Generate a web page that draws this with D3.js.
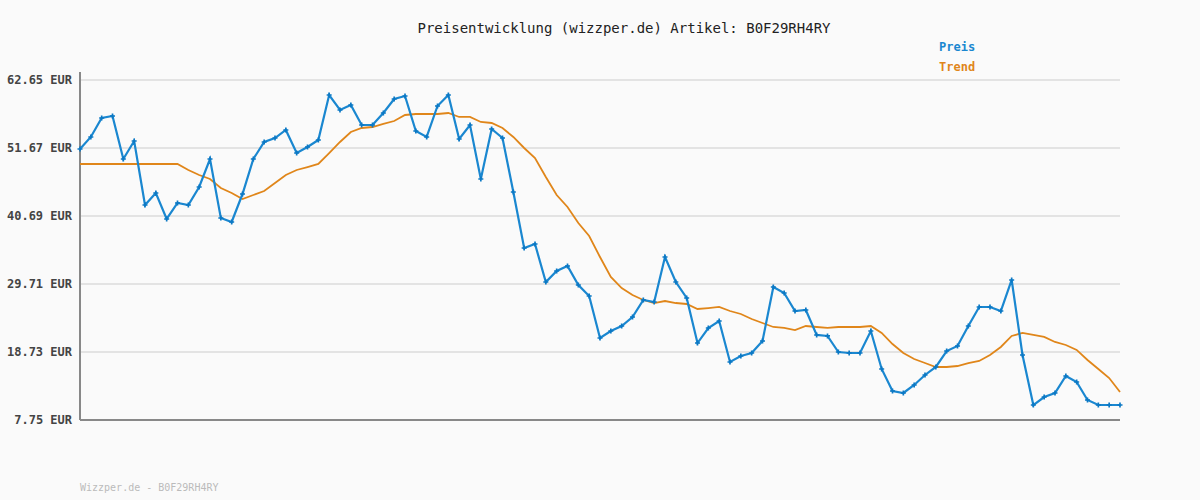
<!DOCTYPE html>
<html>
<head>
<meta charset="utf-8">
<script src="https://cdn.jsdelivr.net/npm/d3@7"></script>
<style>
  body { margin: 0; background: #fafafa; }
  text { font-family: "DejaVu Sans Mono", monospace; }
</style>
</head>
<body>
<svg width="1200" height="500"></svg>
<script>
// price values (EUR), one per day
const preis = [51.51,53.45,56.51,56.84,49.89,52.80,42.47,44.40,40.21,42.79,
  42.47,45.37,49.89,40.37,39.72,44.24,49.89,52.64,53.28,54.58,
  50.86,51.83,52.96,60.23,57.81,58.61,55.38,55.38,57.32,59.58,
  60.07,54.41,53.45,58.45,60.23,53.12,55.38,46.66,54.74,53.28,
  44.57,35.52,36.17,30.03,31.81,32.62,29.55,27.77,20.99,22.12,
  22.93,24.38,27.13,26.80,34.07,30.03,27.45,20.18,22.60,23.74,
  17.12,18.08,18.57,20.51,29.23,28.26,25.35,25.51,21.48,21.32,
  18.73,18.57,18.57,22.12,15.99,12.43,12.11,13.40,15.02,16.31,
  18.89,19.70,22.93,26.00,26.00,25.35,30.36,18.25,10.17,11.46,
  12.11,14.85,13.89,10.98,10.17,10.17,10.17];
const trend = [49.09,49.09,49.09,49.09,49.09,49.09,49.09,49.09,49.09,49.09,
  48.12,47.31,46.66,45.21,44.40,43.43,44.08,44.73,46.02,47.31,
  48.12,48.60,49.09,50.86,52.64,54.25,54.90,55.06,55.55,56.03,
  57.00,57.16,57.16,57.16,57.32,56.68,56.68,55.87,55.71,54.90,
  53.45,51.67,50.06,46.99,44.08,42.14,39.56,37.46,34.07,30.84,
  29.06,27.93,27.13,26.64,26.96,26.64,26.48,25.67,25.83,26.00,
  25.35,24.87,24.06,23.41,22.77,22.61,22.28,22.93,22.77,22.61,
  22.77,22.77,22.77,22.93,21.80,20.02,18.57,17.60,16.95,16.31,
  16.31,16.47,16.95,17.28,18.25,19.54,21.32,21.80,21.48,21.16,
  20.35,19.86,19.06,17.44,15.99,14.53,12.27];
const yTicks = [7.75, 18.73, 29.71, 40.69, 51.67, 62.65];
const artikel = "B0F29RH4RY";

const svg = d3.select("svg");
const mLeft = 80, mRight = 1120, mTop = 80, mBottom = 420;

const x = d3.scaleLinear().domain([0, preis.length - 1]).range([mLeft, mRight]);
const y = d3.scaleLinear().domain([7.75, 62.65]).range([mBottom, mTop]);

// grid
svg.append("g").selectAll("line")
  .data(yTicks.slice(1))
  .join("line")
  .attr("x1", mLeft).attr("x2", mRight)
  .attr("y1", d => y(d)).attr("y2", d => y(d))
  .attr("stroke", "#e3e3e3").attr("stroke-width", 2);

// y labels
svg.append("g").selectAll("text")
  .data(yTicks)
  .join("text")
  .attr("x", 72).attr("y", d => y(d) + 4)
  .attr("text-anchor", "end")
  .attr("font-size", 12).attr("font-weight", "bold")
  .attr("fill", "#444")
  .text(d => d.toFixed(2) + " EUR");

// axes lines
svg.append("line").attr("x1", mLeft).attr("x2", mLeft).attr("y1", mTop - 8).attr("y2", mBottom)
  .attr("stroke", "#888").attr("stroke-width", 2);
svg.append("line").attr("x1", mLeft).attr("x2", mRight).attr("y1", mBottom).attr("y2", mBottom)
  .attr("stroke", "#888").attr("stroke-width", 2);

const line = d3.line().x((d, i) => x(i)).y(d => y(d));

svg.append("path").datum(trend)
  .attr("d", line).attr("fill", "none")
  .attr("stroke", "#e0861a").attr("stroke-width", 1.8);

svg.append("path").datum(preis)
  .attr("d", line).attr("fill", "none")
  .attr("stroke", "#1a87d0").attr("stroke-width", 2.2);

svg.append("g").selectAll("path")
  .data(preis)
  .join("path")
  .attr("transform", (d, i) => `translate(${x(i)},${y(d)})`)
  .attr("d", d3.symbol(d3.symbolCross, 14))
  .attr("fill", "#0b78c4");

// title + legend
svg.append("text").attr("x", 624).attr("y", 33).attr("text-anchor", "middle")
  .attr("font-size", 14).attr("fill", "#222")
  .text("Preisentwicklung (wizzper.de) Artikel: " + artikel);
svg.append("text").attr("x", 939).attr("y", 51).attr("font-size", 12)
  .attr("font-weight", "bold").attr("fill", "#1a87d0").text("Preis");
svg.append("text").attr("x", 939).attr("y", 71).attr("font-size", 12)
  .attr("font-weight", "bold").attr("fill", "#e0861a").text("Trend");

// footer
svg.append("text").attr("x", 80).attr("y", 491).attr("font-size", 10)
  .attr("fill", "#bbb").text("Wizzper.de - " + artikel);
</script>
</body>
</html>
